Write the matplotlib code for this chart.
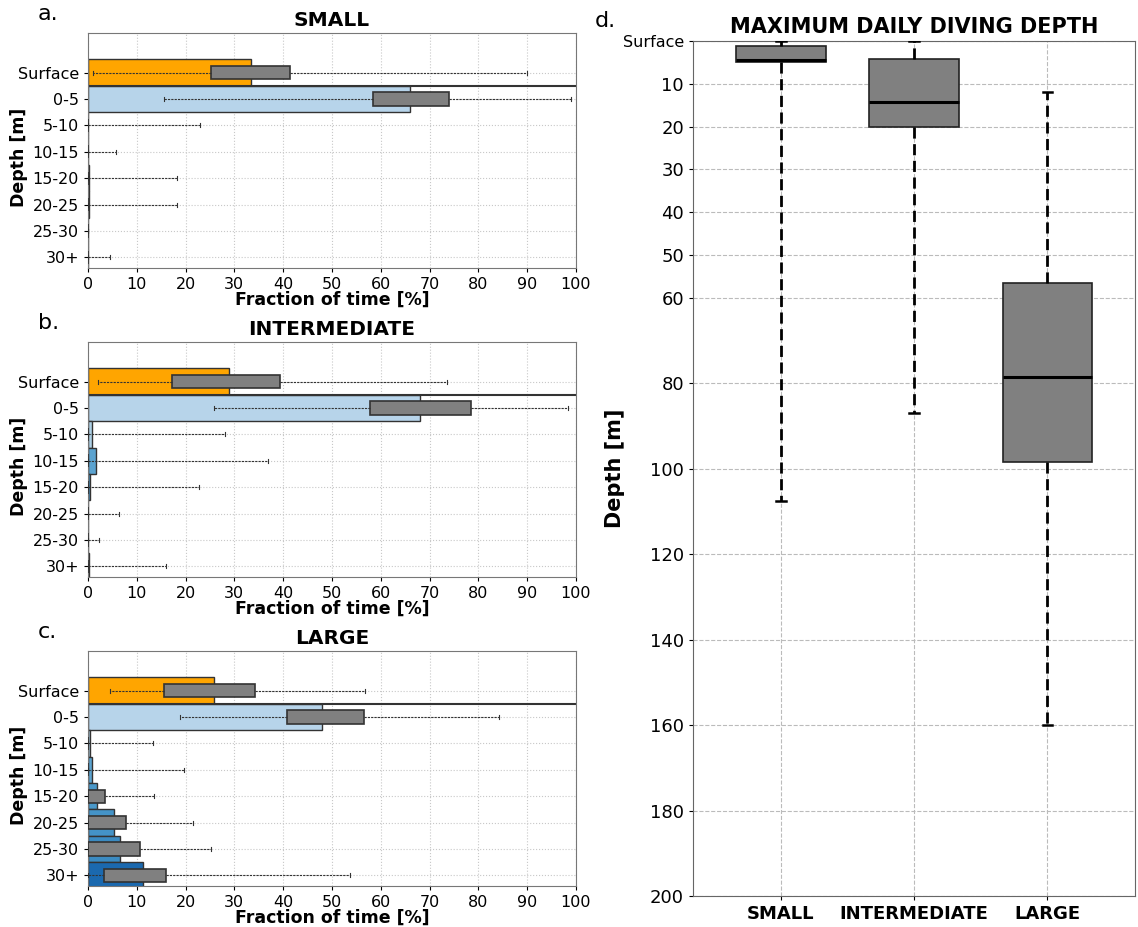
import matplotlib.pyplot as plt

depth_bins = ["Surface", "0-5", "5-10", "10-15", "15-20", "20-25", "25-30", "30+"]
groups = ["SMALL", "INTERMEDIATE", "LARGE"]

# mean fraction of time spent in each depth bin [%]
small_frac = [33.5, 66.0, 0.0, 0.0, 0.15, 0.15, 0.0, 0.0]
inter_frac = [29.0, 68.0, 0.9, 1.6, 0.4, 0.0, 0.0, 0.15]
large_frac = [25.8, 48.0, 0.5, 0.9, 1.9, 5.3, 6.5, 11.3]

# box summaries per depth bin: whisker low, q1, q3, whisker high [%]
small_lo = [1.0, 15.5, 0, 0, 0, 0, 0, 0]
small_q1 = [25.3, 58.5, 0, 0, 0, 0, 0, 0]
small_q3 = [41.5, 74.0, 0, 0, 0, 0, 0, 0]
small_hi = [90.0, 99.0, 23.0, 5.7, 18.3, 18.3, 0, 4.6]

inter_lo = [2.0, 25.8, 0, 0, 0, 0, 0, 0]
inter_q1 = [17.2, 57.8, 0, 0, 0, 0, 0, 0]
inter_q3 = [39.3, 78.5, 0, 0, 0, 0, 0, 0]
inter_hi = [73.5, 98.3, 28.0, 36.8, 22.8, 6.4, 2.2, 15.9]

large_lo = [4.6, 18.8, 0, 0, 0, 0, 0, 0]
large_q1 = [15.6, 40.7, 0, 0, 0, 0, 0, 3.2]
large_q3 = [34.2, 56.6, 0, 0, 3.4, 7.7, 10.6, 15.9]
large_hi = [56.8, 84.3, 13.3, 19.7, 13.5, 21.5, 25.3, 53.7]

# maximum daily diving depth [m]
dive_lo = [0.0, 0.0, 12.0]
dive_q1 = [1.2, 4.3, 56.7]
dive_med = [4.4, 14.2, 78.7]
dive_q3 = [4.9, 20.0, 98.5]
dive_hi = [107.5, 87.0, 160.0]

bar_colors = ["#ffa500"] + [plt.cm.Blues(v) for v in [0.3, 0.33, 0.55, 0.6, 0.62, 0.65, 0.78]]

fig = plt.figure(figsize=(11.38, 9.27), dpi=100)

panels = [
    ("a.", "SMALL", small_frac, small_lo, small_q1, small_q3, small_hi, 0.7109),
    ("b.", "INTERMEDIATE", inter_frac, inter_lo, inter_q1, inter_q3, inter_hi, 0.3776),
    ("c.", "LARGE", large_frac, large_lo, large_q1, large_q3, large_hi, 0.0442),
]

for letter, title, frac, lo, q1, q3, hi, bottom in panels:
    ax = fig.add_axes([0.0773, bottom, 0.4288, 0.2535])
    ypos = list(range(len(depth_bins)))
    ax.barh(ypos, frac, height=1.0, color=bar_colors, edgecolor="#333333",
            linewidth=1.0, zorder=2)
    stats = [dict(whislo=lo[i], q1=q1[i], med=q1[i], q3=q3[i], whishi=hi[i], fliers=[])
             for i in range(len(depth_bins))]
    ax.bxp(stats, positions=ypos, widths=0.5, orientation="horizontal",
           patch_artist=True, showfliers=False, capwidths=0.15,
           boxprops=dict(facecolor="#808080", edgecolor="#333333", linewidth=1.2),
           whiskerprops=dict(color="#333333", linestyle=(0, (2, 1)), linewidth=0.8),
           capprops=dict(color="#333333", linewidth=0.8),
           medianprops=dict(linewidth=0), manage_ticks=False, zorder=3)
    ax.axhline(0.5, color="#333333", linewidth=1.5, zorder=2.5)
    ax.set_xlim(0, 100)
    ax.set_ylim(7.4, -1.5)
    ax.set_xticks(range(0, 101, 10))
    ax.set_yticks(ypos)
    ax.set_yticklabels(depth_bins)
    ax.tick_params(labelsize=11.5, length=3)
    ax.grid(True, linestyle=":", color="#c8c8c8", linewidth=0.8)
    ax.set_axisbelow(True)
    for s in ax.spines.values():
        s.set_color("#777777")
    ax.set_xlabel("Fraction of time [%]", fontsize=12.5, fontweight="bold", labelpad=-1)
    ax.set_ylabel("Depth [m]", fontsize=12.5, fontweight="bold")
    ax.yaxis.set_label_coords(-0.122, 0.47)
    ax.set_title(title, fontsize=14.5, fontweight="bold", pad=5)
    fig.text(0.033, bottom + 0.2535 + 0.02, letter, fontsize=16, va="center", ha="left")

# panel d
axd = fig.add_axes([0.609, 0.0334, 0.3884, 0.9223])
dstats = [dict(whislo=dive_lo[i], q1=dive_q1[i], med=dive_med[i], q3=dive_q3[i],
               whishi=dive_hi[i], fliers=[]) for i in range(len(groups))]
axd.bxp(dstats, positions=[1, 2, 3], widths=0.67, patch_artist=True, showfliers=False,
        capwidths=0.07,
        boxprops=dict(facecolor="#808080", edgecolor="#222222", linewidth=1.2),
        whiskerprops=dict(color="black", linestyle=(0, (4, 2)), linewidth=2),
        capprops=dict(color="black", linewidth=1.8),
        medianprops=dict(color="black", linewidth=2.2), zorder=3)
axd.set_xlim(0.34, 3.66)
axd.set_ylim(200, 0)
dticks = [0, 10, 20, 30, 40, 50, 60, 80, 100, 120, 140, 160, 180, 200]
axd.set_yticks(dticks)
axd.set_yticklabels(["Surface"] + [str(t) for t in dticks[1:]])
axd.tick_params(axis="y", labelsize=13, length=3)
axd.get_yticklabels()[0].set_fontsize(11.5)
axd.set_xticks([1, 2, 3])
axd.set_xticklabels(groups, fontsize=13, fontweight="bold")
axd.tick_params(axis="x", length=3)
axd.grid(True, linestyle="--", color="#bbbbbb", linewidth=0.8)
axd.set_axisbelow(True)
for s in axd.spines.values():
    s.set_color("#666666")
axd.set_ylabel("Depth [m]", fontsize=15, fontweight="bold")
axd.yaxis.set_label_coords(-0.154, 0.5)
axd.set_title("MAXIMUM DAILY DIVING DEPTH", fontsize=15, fontweight="bold", pad=6)
fig.text(0.523, 0.977, "d.", fontsize=16, va="center", ha="left")

fig.savefig("out.png", dpi=100)
